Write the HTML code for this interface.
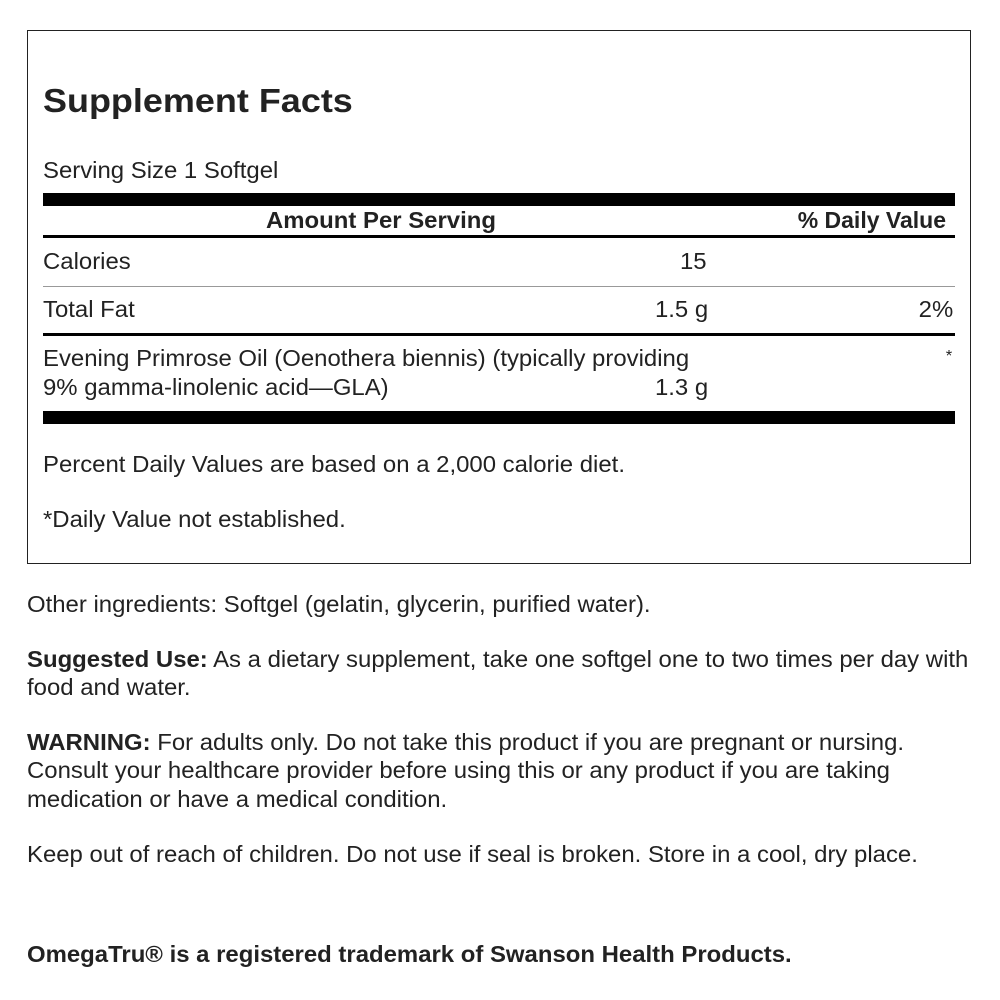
<!DOCTYPE html>
<html><head><meta charset="utf-8"><style>
body{margin:0;width:1000px;height:1000px;background:#fff;font-family:"Liberation Sans",Arial,sans-serif;color:#222;position:relative;overflow:hidden}
.a{position:absolute;white-space:nowrap;font-size:23px;line-height:24px;transform:scaleX(1.04);transform-origin:left top}
.r{transform-origin:right top}
.b{font-weight:bold}
.bar{position:absolute;background:#000;left:43px;width:912px}
</style></head><body>
<div style="position:absolute;left:27px;top:30px;width:942px;height:532px;border:1px solid #222"></div>
<div class="a b" style="left:43px;top:82px;font-size:33px;line-height:38px;transform:scaleX(1.09)">Supplement Facts</div>
<div class="a" style="left:43px;top:158px">Serving Size 1 Softgel</div>
<div class="bar" style="top:193px;height:13px"></div>
<div class="a b" style="left:266px;top:208px;transform:scaleX(1.04)">Amount Per Serving</div>
<div class="a b r" style="right:54px;top:208px;transform:scaleX(1.0)">% Daily Value</div>
<div class="bar" style="top:235px;height:3px"></div>
<div class="a" style="left:43px;top:249px">Calories</div>
<div class="a r" style="right:293px;top:249px">15</div>
<div class="bar" style="top:286px;height:1px;background:#999"></div>
<div class="a" style="left:43px;top:297px">Total Fat</div>
<div class="a r" style="right:292px;top:297px">1.5 g</div>
<div class="a r" style="right:47px;top:297px">2%</div>
<div class="bar" style="top:333px;height:3px"></div>
<div class="a" style="left:43px;top:346px">Evening Primrose Oil (Oenothera biennis) (typically providing</div>
<div class="a r" style="right:48px;top:345px;font-size:16px">*</div>
<div class="a" style="left:43px;top:375px">9% gamma-linolenic acid—GLA)</div>
<div class="a r" style="right:292px;top:375px">1.3 g</div>
<div class="bar" style="top:411px;height:13px"></div>
<div class="a" style="left:43px;top:452px">Percent Daily Values are based on a 2,000 calorie diet.</div>
<div class="a" style="left:43px;top:507px">*Daily Value not established.</div>
<div class="a" style="left:27px;top:592px">Other ingredients: Softgel (gelatin, glycerin, purified water).</div>
<div class="a" style="left:27px;top:647px"><b>Suggested Use:</b> As a dietary supplement, take one softgel one to two times per day with</div>
<div class="a" style="left:27px;top:675px">food and water.</div>
<div class="a" style="left:27px;top:730px"><b>WARNING:</b> For adults only. Do not take this product if you are pregnant or nursing.</div>
<div class="a" style="left:27px;top:758px">Consult your healthcare provider before using this or any product if you are taking</div>
<div class="a" style="left:27px;top:787px">medication or have a medical condition.</div>
<div class="a" style="left:27px;top:842px">Keep out of reach of children. Do not use if seal is broken. Store in a cool, dry place.</div>
<div class="a b" style="left:27px;top:942px;transform:scaleX(1.04)">OmegaTru® is a registered trademark of Swanson Health Products.</div>
</body></html>
